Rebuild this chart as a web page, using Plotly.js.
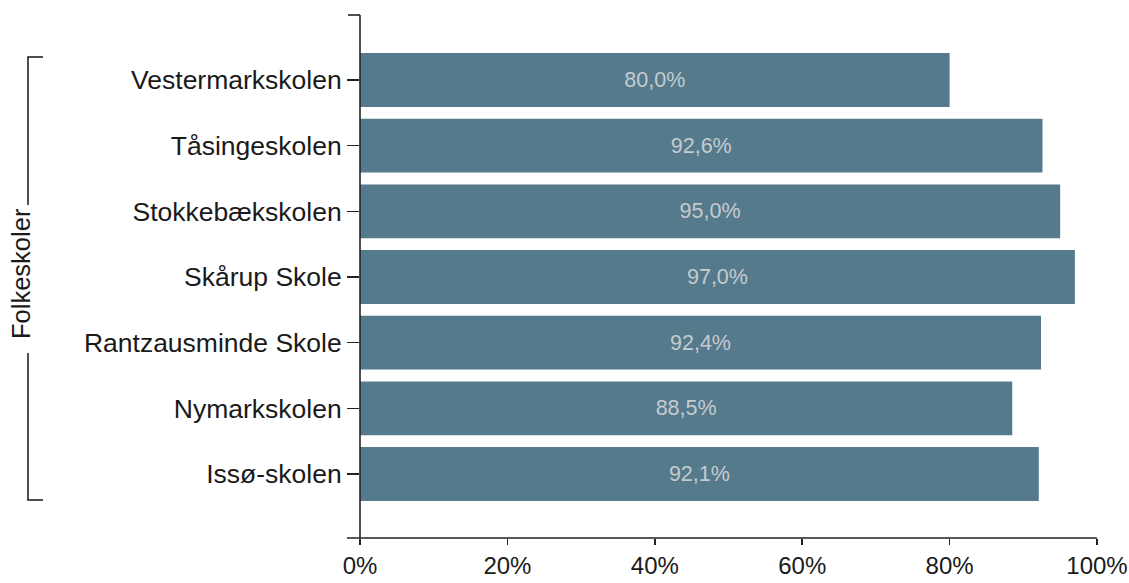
<!DOCTYPE html>
<html>
<head>
<meta charset="utf-8">
<script src="https://cdn.plot.ly/plotly-3.0.1.min.js"></script>
<style>
html,body{margin:0;padding:0;background:#fff;}
#chart{width:1129px;height:583px;}
</style>
</head>
<body>
<div id="chart"></div>
<script>
// Data (bottom to top)
const schools = ["Issø-skolen", "Nymarkskolen", "Rantzausminde Skole", "Skårup Skole", "Stokkebækskolen", "Tåsingeskolen", "Vestermarkskolen"];
const values = [92.1, 88.5, 92.4, 97.0, 95.0, 92.6, 80.0];
const tickVals = [0, 20, 40, 60, 80, 100];
const tickText = ["0%", "20%", "40%", "60%", "80%", "100%"];
const groupLabel = "Folkeskoler";

const labels = values.map(v => v.toFixed(1).replace('.', ',') + '%');

const W = 1129, H = 583;
const M = {l: 360, r: 32, t: 15, b: 45};
const pw = W - M.l - M.r, ph = H - M.t - M.b;
const px = x => (x - M.l) / pw;
const py = y => (H - M.b - y) / ph;

const axisColor = '#222';
const font = '"Liberation Sans", Arial, sans-serif';

const trace = {
  type: 'bar',
  orientation: 'h',
  y: schools,
  x: values,
  text: labels,
  textposition: 'inside',
  insidetextanchor: 'middle',
  textangle: 0,
  insidetextfont: {family: font, size: 21.5, color: '#c5cbcf'},
  marker: {color: '#557a8c', line: {width: 0}},
  hoverinfo: 'none',
  cliponaxis: false
};

const line = (x0, y0, x1, y1, w) => ({
  type: 'line', xref: 'paper', yref: 'paper',
  x0: px(x0), y0: py(y0), x1: px(x1), y1: py(y1),
  line: {color: axisColor, width: w || 1.6}
});

const layout = {
  width: W, height: H,
  margin: M,
  paper_bgcolor: '#fff',
  plot_bgcolor: '#fff',
  showlegend: false,
  bargap: 0.18,
  font: {family: font, color: '#1a1a1a'},
  xaxis: {
    range: [0, 100],
    tickvals: tickVals,
    ticktext: tickText,
    ticks: 'outside',
    ticklen: 6,
    tickwidth: 1.6,
    tickcolor: axisColor,
    showline: false,
    showgrid: false,
    zeroline: false,
    tickfont: {family: font, size: 24, color: '#1a1a1a'},
    fixedrange: true
  },
  yaxis: {
    type: 'category',
    categoryorder: 'array',
    categoryarray: schools,
    range: [-0.975, 6.99],
    ticks: 'outside',
    ticklen: 12,
    tickwidth: 1.6,
    tickcolor: axisColor,
    showline: false,
    showgrid: false,
    zeroline: false,
    tickfont: {family: font, size: 26.5, color: '#1a1a1a'},
    fixedrange: true
  },
  shapes: [
    line(360, 15, 360, 538),
    line(347, 538, 1097, 538),
    line(348, 15, 360, 15),
    line(28, 57, 28, 205),
    line(28, 353, 28, 500),
    line(27.2, 57, 43, 57),
    line(27.2, 500, 43, 500)
  ],
  annotations: [{
    xref: 'paper', yref: 'paper',
    x: px(21), y: py(274),
    text: groupLabel,
    showarrow: false,
    textangle: -90,
    xanchor: 'center', yanchor: 'middle',
    font: {family: font, size: 25.5, color: '#1a1a1a'}
  }]
};

Plotly.newPlot('chart', [trace], layout, {staticPlot: true, displayModeBar: false});
</script>
</body>
</html>
